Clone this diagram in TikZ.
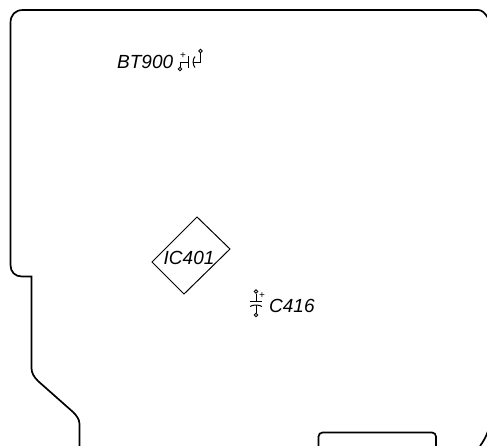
\documentclass[tikz,border=0pt]{standalone}
\usepackage{fontspec}
\setmainfont{Liberation Sans}
\tikzset{
  outline/.style={line width=1.7pt,black,rounded corners=#1},
  outline/.default=0pt,
  part/.style={line width=1pt,black},
  lbl/.style={inner sep=0pt,font=\fontsize{19}{19}\selectfont\itshape},
  pin/.style={circle,draw,line width=0.9pt,fill=white,inner sep=0pt,minimum size=3.6pt},
  plus/.style={inner sep=0pt,font=\fontsize{10}{10}\selectfont}
}
\begin{document}
\begin{tikzpicture}[x=1pt,y=-1pt]
\path[use as bounding box] (0,0) rectangle (487,445);
\clip (0,0) rectangle (487,445);
% board outline
\draw[outline] (79.5,446) -- (79.5,424) .. controls (79.5,419) and (76,415) .. (73,412)
  -- (38,381) .. controls (34,377) and (31.5,373) .. (31.5,368) -- (31.5,276.5) -- (22,276.5)
  .. controls (15,276.5) and (10.5,272) .. (10.5,265) -- (10.5,23)
  .. controls (10.5,15) and (15,10) .. (23,10) -- (478,10)
  .. controls (482,10) and (485,13) .. (488,18);
\draw[outline] (488,431) .. controls (486,437) and (483,442) .. (480,446);
\draw[outline=4pt] (318.5,446) -- (318.5,432.5) -- (436,432.5) -- (436,446);
% IC401
\draw[part] (197,217) -- (230,249) -- (184,294) -- (152,262) -- cycle;
\node[lbl,anchor=base west] (ic) at (163.5,264) {IC401};
% BT900
\node[lbl,anchor=base west] (bt) at (117,68) {BT900};
\node[pin] (btm) at (180,69) {};
\node[pin] (btp) at (200.5,51) {};
\coordinate (bta) at (188,62);
\coordinate (btb) at (193,62);
\draw[part] (btm) -- (180,62) -- (bta);
\draw[part] (btp) -- (200.5,62) -- (btb);
\draw[part] (188,56) -- (188,68);
\draw[part] (195,56.5) .. controls (192.5,59) and (192.5,65) .. (195,67.5);
\node[plus] (btplus) at (183,56) {+};
% C416
\node[lbl,anchor=base west] (c) at (269,312) {C416};
\node[pin] (ct) at (256,291.5) {};
\node[pin] (cb) at (256,315) {};
\coordinate (cta) at (256,301.5);
\coordinate (cbb) at (256,305);
\draw[part] (ct) -- (cta);
\draw[part] (cb) -- (cbb);
\draw[part] (250,301.5) -- (262,301.5);
\draw[part] (250,306.5) .. controls (253,304.5) and (259,304.5) .. (262,306.5);
\node[plus] (cplus) at (262,296) {+};
\end{tikzpicture}
\end{document}
